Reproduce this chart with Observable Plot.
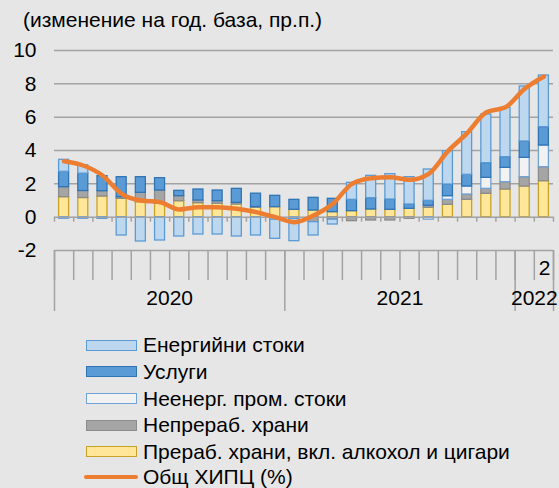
<!DOCTYPE html>
<html><head><meta charset="utf-8">
<script src="https://cdn.jsdelivr.net/npm/d3@7"></script>
<script src="https://cdn.jsdelivr.net/npm/@observablehq/plot@0.6"></script>
<style>
html,body{margin:0;padding:0;background:#e6e6e6;}
#wrap{position:relative;width:559px;height:488px;font-family:"Liberation Sans",Arial,sans-serif;color:#000;overflow:hidden;}
#title{position:absolute;left:23px;top:8px;font-size:21px;white-space:nowrap;}
#chart{position:absolute;left:0;top:0;}
.item{position:absolute;left:84px;height:26px;display:flex;align-items:center;font-size:21px;white-space:nowrap;}
.sw{width:49px;height:9px;margin-left:2px;margin-right:6px;box-sizing:content-box;}
.ln{width:54px;height:4px;border-radius:2px;margin-right:5px;}
</style>
</head><body>
<div id="wrap">
  <div id="chart"></div>
  <div id="title">(изменение на год. база, пр.п.)</div>
  <div id="legend"></div>
</div>
<script>
// Months: Jan 2020 .. Feb 2022
const months = ["2020-01","2020-02","2020-03","2020-04","2020-05","2020-06","2020-07","2020-08","2020-09","2020-10","2020-11","2020-12",
                "2021-01","2021-02","2021-03","2021-04","2021-05","2021-06","2021-07","2021-08","2021-09","2021-10","2021-11","2021-12",
                "2022-01","2022-02"];
const yearLabels = ["2020","2021","2022"];
const yTicks = [-2,0,2,4,6,8,10];
const lastMonthLabel = "2";

// Contributions (pp)
const processedFood = [1.2,1.15,1.24,1.1,0.9,0.8,0.96,0.84,0.8,0.76,0.56,0.6,0.44,0.4,0.3,0.36,0.46,0.44,0.5,0.56,0.74,1.04,1.4,1.66,1.84,2.16];
const unprocessedFood = [0.6,0.42,0.32,0.1,0.56,0.8,0.3,0.16,0.16,0.1,0.05,0,0,-0.3,-0.15,-0.24,-0.2,-0.2,-0.1,0.12,0.3,0.32,0.3,0.44,0.56,0.84];
const neig = [-0.1,-0.1,0,0,0,0,0,0,0,0,0,-0.15,-0.1,0,0,0,0,0,0,-0.15,0.22,0.48,0.66,0.86,1.16,1.3];
const services = [0.92,1.04,0.9,1.2,0.94,0.74,0.32,0.66,0.64,0.84,0.8,0.68,0.6,0.76,0.8,0.68,0.68,0.62,0.26,0.3,0.7,0.7,0.88,0.64,0.98,1.1];
const energy = [0.72,0.5,-0.1,-1.1,-1.46,-1.4,-1.16,-1.04,-1.04,-1.16,-1.1,-1.15,-1.34,-0.8,-0.29,1.02,1.34,1.52,1.64,1.88,2.0,2.56,2.92,2.96,3.3,3.1];
const hicp = [3.36,3.1,2.5,1.4,1.0,0.9,0.46,0.6,0.6,0.5,0.3,0.0,-0.3,0.1,0.8,2.0,2.34,2.4,2.24,2.6,3.96,5.04,6.3,6.6,7.7,8.44];

// bottom-to-top stacking order: processed food, unprocessed food, NEIG, services, energy
const legendNames = ["Прераб. храни, вкл. алкохол и цигари","Непрераб. храни","Неенерг. пром. стоки","Услуги","Енергийни стоки"];
const fills = ["#ffe699","#a5a5a5","#f2f2f2","#5b9bd5","#bdd7ee"];
const strokes = ["#c9a227","#8c8c8c","#6fa3d8","#2f75b5","#5b9bd5"];
const lineName = "Общ ХИПЦ (%)";
const lineColor = "#ed7d31";

const seriesValues = [processedFood, unprocessedFood, neig, services, energy];
const rows = seriesValues.flatMap((vals, si) => vals.map((v, i) => ({i, v, si}))).filter(d => d.v !== 0);
const lineData = hicp.map((v, i) => ({i, v}));
const bounds = d3.range(0, months.length + 1);
const yearStarts = [0, 12, 24, months.length];
const yearMid = yearLabels.map((t, k) => ({t, x: (yearStarts[k] + yearStarts[k+1]) / 2}));
const grid = "#a3a3a3";

const chart = Plot.plot({
  width: 559, height: 320,
  marginLeft: 54, marginRight: 6, marginTop: 50, marginBottom: 70,
  style: {background: "transparent", fontFamily: "Liberation Sans, Arial, sans-serif", color: "#000", overflow: "visible"},
  x: {type: "linear", domain: [0, months.length], axis: null},
  y: {domain: [-2, 10], axis: null},
  color: {type: "identity"},
  marks: [
    Plot.ruleY([2,4,6,8,10], {stroke: grid, strokeWidth: 1.5}),
    Plot.ruleY([-2], {stroke: grid, strokeWidth: 1.5}),
    Plot.ruleX(bounds, {x: d => d, y1: -2, y2: -3.8, stroke: grid, strokeWidth: 1.5}),
    Plot.ruleX(yearStarts, {x: d => d, y1: -2, y2: -5.66, stroke: grid, strokeWidth: 1.5}),
    Plot.axisY(yTicks, {tickSize: 0, tickPadding: 18, fontSize: 21, tickFormat: d => String(d), label: null}),
    Plot.rectY(rows, {x1: "i", x2: d => d.i + 1, y: "v", z: "si",
      fill: d => fills[d.si], stroke: d => strokes[d.si], strokeWidth: 1.3,
      insetLeft: 4.6, insetRight: 4.6}),
    Plot.ruleY([0], {stroke: grid, strokeWidth: 1.5}),
    Plot.ruleX(bounds, {x: d => d, y1: 0, y2: -0.3, stroke: grid, strokeWidth: 1.5}),
    Plot.line(lineData, {x: d => d.i + 0.5, y: "v", stroke: lineColor, strokeWidth: 4.5, curve: "monotone-x"}),
    Plot.text(yearMid, {x: "x", y: -4.85, text: "t", fontSize: 21}),
    Plot.text([lastMonthLabel], {x: months.length, y: -3.08, text: d => d, textAnchor: "end", dx: -3, fontSize: 21})
  ]
});
document.getElementById("chart").appendChild(chart);

// Legend (top-to-bottom: energy, services, NEIG, unprocessed, processed, HICP)
const legend = document.getElementById("legend");
const centers = [345, 371.5, 398.5, 425, 451.5, 477];
const order = [4, 3, 2, 1, 0];
order.forEach((si, k) => {
  const it = document.createElement("div");
  it.className = "item";
  it.style.top = (centers[k] - 13) + "px";
  it.innerHTML = `<div class="sw" style="background:${fills[si]};border:1.3px solid ${strokes[si]}"></div><span>${legendNames[si]}</span>`;
  legend.appendChild(it);
});
const li = document.createElement("div");
li.className = "item";
li.style.top = (centers[5] - 13) + "px";
li.innerHTML = `<div class="ln" style="background:${lineColor}"></div><span>${lineName}</span>`;
legend.appendChild(li);
</script>
</body></html>
